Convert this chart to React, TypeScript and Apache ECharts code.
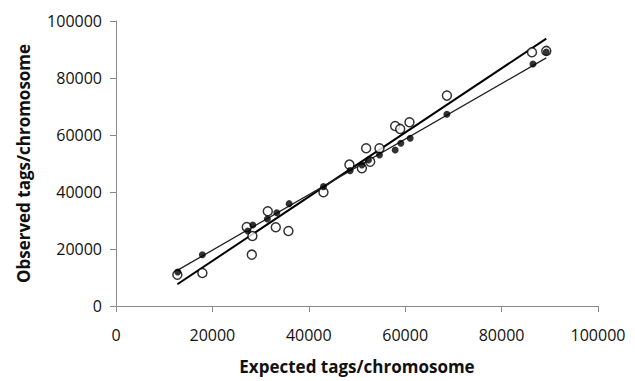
import React, { useEffect, useRef } from "react";
import * as echarts from "echarts";

// Filled circles (sample A)
const filledExpected = [12810, 17920, 27340, 28380, 31410, 33360, 35920, 43040, 48580, 51010, 52380, 54660, 57920, 59100, 61030, 68650, 86510, 89270];
const filledObserved = [11930, 18000, 26330, 28430, 30540, 32750, 35910, 41880, 47490, 49490, 51250, 53000, 54760, 57110, 58860, 67290, 84940, 89150];

// Open circles (sample B)
const openExpected = [12730, 17920, 27130, 28300, 28170, 31490, 33150, 35770, 43040, 48430, 51010, 52730, 51900, 54660, 57920, 58960, 60890, 68650, 86300, 89270];
const openObserved = [10990, 11580, 27730, 24570, 18010, 33240, 27620, 26330, 39910, 49600, 48330, 50650, 55350, 55350, 63180, 62130, 64480, 73820, 89050, 89500];

// Trend lines (slope, intercept)
const openTrend = { slope: 1.126, intercept: -6700 };
const filledTrend = { slope: 0.974, intercept: 100 };

const xTicks = [0, 20000, 40000, 60000, 80000, 100000];

function pairs(xs: number[], ys: number[]) {
  return xs.map((x, i) => [x, ys[i]]);
}
function trendLine(xs: number[], t: { slope: number; intercept: number }) {
  const lo = Math.min(...xs);
  const hi = Math.max(...xs);
  return [
    [lo, t.slope * lo + t.intercept],
    [hi, t.slope * hi + t.intercept],
  ];
}

export default function App() {
  const ref = useRef<HTMLDivElement>(null);
  useEffect(() => {
    if (!ref.current) return;
    const chart = echarts.init(ref.current, null, { renderer: "svg" });
    const font = "'Open Sans', 'Noto Sans', sans-serif";
    const axisGray = "#8a8a8a";
    const plain = (v: number) => String(v);
    chart.setOption({
      animation: false,
      backgroundColor: "#ffffff",
      grid: { left: 116, right: 37, top: 21, bottom: 75, containLabel: false },
      xAxis: {
        type: "value",
        min: xTicks[0],
        max: xTicks[xTicks.length - 1],
        interval: xTicks[1] - xTicks[0],
        name: "Expected tags/chromosome",
        nameLocation: "middle",
        nameGap: 52,
        nameTextStyle: { fontFamily: font, fontSize: 17, fontWeight: "bold", color: "#111" },
        axisLine: { show: true, lineStyle: { color: axisGray, width: 1 } },
        axisTick: { show: true, length: 6, lineStyle: { color: axisGray } },
        splitLine: { show: false },
        axisLabel: { fontFamily: font, fontSize: 16, color: "#111", margin: 21, formatter: plain },
      },
      yAxis: {
        type: "value",
        min: 0,
        max: 100000,
        interval: 20000,
        name: "Observed tags/chromosome",
        nameLocation: "middle",
        nameGap: 84,
        nameTextStyle: { fontFamily: font, fontSize: 17, fontWeight: "bold", color: "#111" },
        axisLine: { show: true, lineStyle: { color: axisGray, width: 1 } },
        axisTick: { show: true, length: 6, lineStyle: { color: axisGray } },
        splitLine: { show: false },
        axisLabel: { fontFamily: font, fontSize: 16, color: "#111", margin: 14, formatter: plain },
      },
      series: [
        {
          type: "line",
          data: trendLine(openExpected, openTrend),
          symbol: "none",
          lineStyle: { color: "#000", width: 2 },
          z: 2,
        },
        {
          type: "line",
          data: trendLine(filledExpected, filledTrend),
          symbol: "none",
          lineStyle: { color: "#222", width: 1.3 },
          z: 2,
        },
        {
          type: "scatter",
          data: pairs(openExpected, openObserved),
          symbol: "circle",
          symbolSize: 9,
          itemStyle: { color: "#fff", borderColor: "#000", borderWidth: 1.5 },
          z: 3,
        },
        {
          type: "scatter",
          data: pairs(filledExpected, filledObserved),
          symbol: "circle",
          symbolSize: 7,
          itemStyle: { color: "#000" },
          z: 4,
        },
      ],
    });
    return () => chart.dispose();
  }, []);
  return <div ref={ref} style={{ width: 635, height: 381, position: "absolute", left: 0, top: 0 }} />;
}
